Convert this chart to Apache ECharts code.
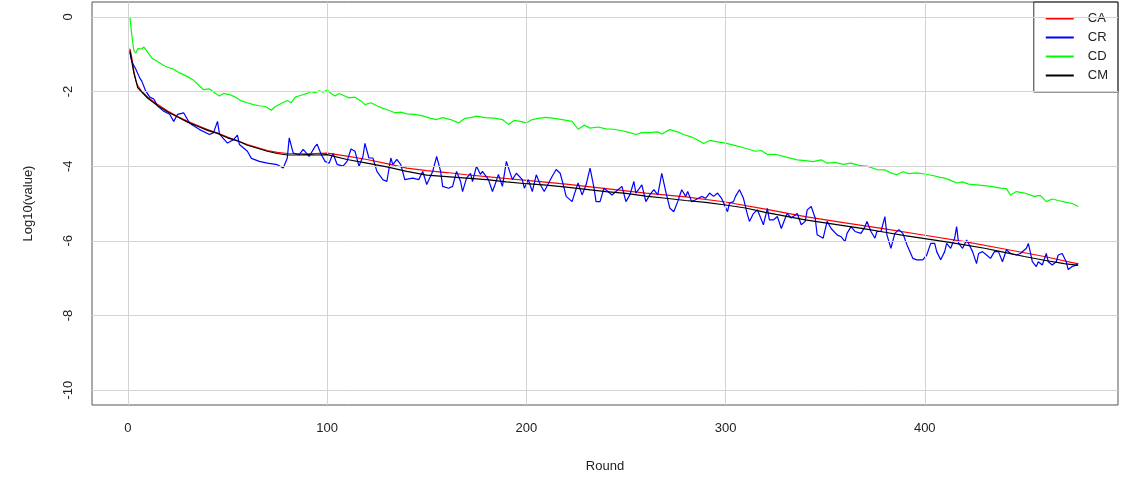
<!DOCTYPE html>
<html>
<head>
<meta charset="utf-8">
<script src="https://cdn.jsdelivr.net/npm/echarts@6/dist/echarts.min.js"></script>
<style>
html,body{margin:0;padding:0;background:#fff;}
#chart{width:1128px;height:482px;}
</style>
</head>
<body>
<div id="chart"></div>
<script>
// ---- data ----
const xTicks = [0, 100, 200, 300, 400];
const yTicks = [0, -2, -4, -6, -8, -10];
const seriesNames = ['CA', 'CR', 'CD', 'CM'];

const caRounds = [1,2,3,4,5,7,10,15,20,25,30,35,40,45,50,55,60,65,70,75,80,90,100,110,120,130,140,150,160,170,180,190,200,220,240,260,280,300,320,340,360,380,400,420,440,460,477];
const caValues = [-0.85,-1.1,-1.45,-1.7,-1.85,-2.0,-2.15,-2.35,-2.52,-2.67,-2.8,-2.91,-3.02,-3.11,-3.22,-3.32,-3.42,-3.5,-3.58,-3.63,-3.66,-3.67,-3.65,-3.73,-3.82,-3.93,-4.05,-4.12,-4.17,-4.23,-4.28,-4.33,-4.38,-4.48,-4.6,-4.72,-4.82,-4.96,-5.15,-5.35,-5.52,-5.68,-5.85,-6.02,-6.22,-6.42,-6.62];

const cmRounds = [1,3,5,10,15,20,25,30,35,40,45,50,55,60,65,70,75,80,85,90,95,100,110,120,130,140,150,160,170,180,190,200,210,220,230,240,250,260,270,280,290,300,310,320,330,340,350,360,370,380,390,400,410,420,430,440,450,460,470,477];
const cmValues = [-0.9,-1.5,-1.9,-2.18,-2.38,-2.55,-2.68,-2.82,-2.93,-3.04,-3.12,-3.24,-3.32,-3.44,-3.52,-3.6,-3.66,-3.7,-3.7,-3.69,-3.7,-3.69,-3.82,-3.92,-4.02,-4.14,-4.24,-4.28,-4.32,-4.36,-4.42,-4.47,-4.51,-4.56,-4.62,-4.68,-4.73,-4.8,-4.86,-4.92,-4.97,-5.04,-5.12,-5.24,-5.34,-5.44,-5.52,-5.6,-5.68,-5.77,-5.86,-5.94,-6.02,-6.11,-6.2,-6.31,-6.42,-6.52,-6.61,-6.66];

const cdRounds = [1,2,3,4,5,6,7,8,9,10,12,15,18,20,23,26,30,33,36,38,41,44,46,48,51,54,57,60,63,66,69,72,74,77,80,82,84,87,90,92,94,96,98,100,102,104,106,108,111,114,117,119,122,125,128,131,134,137,140,144,148,152,155,158,162,166,169,172,175,179,184,188,191,194,197,200,203,206,210,214,218,223,226,229,232,236,240,244,248,252,255,258,262,266,268,272,276,279,283,286,289,292,296,300,305,310,315,318,321,325,330,336,340,344,348,351,355,359,363,367,371,376,380,383,386,389,392,396,400,404,408,410,413,416,419,422,426,430,434,438,441,443,446,450,455,458,461,464,467,471,474,477];
const cdValues = [0.0,-0.5,-0.9,-0.97,-0.85,-0.8,-0.86,-0.8,-0.85,-0.95,-1.1,-1.2,-1.3,-1.35,-1.4,-1.5,-1.6,-1.7,-1.85,-1.95,-1.93,-2.05,-2.12,-2.05,-2.08,-2.15,-2.25,-2.3,-2.35,-2.38,-2.4,-2.5,-2.4,-2.32,-2.24,-2.3,-2.15,-2.1,-2.05,-2.0,-2.03,-1.98,-2.02,-1.96,-2.05,-2.12,-2.05,-2.1,-2.17,-2.15,-2.25,-2.35,-2.3,-2.38,-2.45,-2.5,-2.57,-2.55,-2.6,-2.61,-2.65,-2.72,-2.75,-2.7,-2.75,-2.84,-2.72,-2.7,-2.66,-2.7,-2.71,-2.75,-2.88,-2.77,-2.8,-2.84,-2.75,-2.72,-2.69,-2.72,-2.75,-2.8,-3.01,-2.9,-2.98,-2.95,-3.0,-3.01,-3.05,-3.1,-3.15,-3.1,-3.1,-3.08,-3.14,-3.02,-3.08,-3.15,-3.22,-3.3,-3.39,-3.31,-3.35,-3.38,-3.45,-3.52,-3.6,-3.58,-3.69,-3.68,-3.75,-3.83,-3.85,-3.88,-3.83,-3.92,-3.9,-3.95,-3.92,-3.98,-4.0,-4.09,-4.1,-4.18,-4.23,-4.15,-4.2,-4.18,-4.21,-4.25,-4.3,-4.32,-4.38,-4.45,-4.42,-4.48,-4.5,-4.52,-4.55,-4.59,-4.6,-4.77,-4.68,-4.72,-4.81,-4.78,-4.95,-4.88,-4.92,-4.97,-5.0,-5.08];

const crRounds = [1,2,3,4,6,7,9,11,13,15,18,21,23,25,28,31,36,41,43,45,46,50,53,55,56,60,62,66,70,75,78,80,81,83,86,88,91,94,95,97,99,101,103,105,108,110,112,114,116,118,119,121,123,125,128,130,132,133,135,137,139,143,146,148,150,153,155,157,158,161,163,165,167,168,170,172,173,175,177,178,181,183,184,186,188,190,192,193,195,198,199,201,203,205,207,209,210,213,215,217,219,220,223,224,226,228,230,232,234,235,237,239,240,243,245,248,250,252,254,255,258,260,262,264,266,268,270,272,274,276,278,280,281,283,285,288,290,292,294,296,298,301,302,304,305,307,309,311,312,314,316,317,319,321,322,324,326,328,330,331,333,336,338,340,341,343,345,346,349,351,353,356,358,360,361,363,365,366,368,370,371,373,375,376,378,380,381,383,385,387,389,391,394,396,399,401,403,405,406,408,410,411,413,415,416,417,419,421,422,424,426,427,429,431,433,435,437,439,441,443,446,448,451,452,454,456,457,459,461,462,464,466,467,469,471,472,474,476,477];
const crValues = [-0.95,-1.2,-1.25,-1.4,-1.64,-1.72,-1.99,-2.15,-2.2,-2.39,-2.53,-2.61,-2.8,-2.61,-2.57,-2.85,-3.02,-3.15,-3.1,-2.8,-3.14,-3.38,-3.29,-3.17,-3.42,-3.6,-3.79,-3.87,-3.92,-3.96,-4.05,-3.79,-3.24,-3.65,-3.69,-3.55,-3.74,-3.47,-3.41,-3.68,-3.87,-3.92,-3.66,-3.95,-4.0,-3.87,-3.54,-3.6,-4.0,-3.74,-3.39,-3.78,-3.78,-4.14,-4.36,-4.41,-3.78,-3.96,-3.82,-3.96,-4.36,-4.32,-4.36,-4.14,-4.49,-4.14,-3.74,-4.14,-4.54,-4.59,-4.54,-4.14,-4.41,-4.68,-4.32,-4.19,-4.41,-4.0,-4.22,-4.14,-4.36,-4.68,-4.54,-4.22,-4.54,-3.87,-4.2,-4.36,-4.19,-4.36,-4.59,-4.36,-4.68,-4.23,-4.49,-4.68,-4.63,-4.27,-4.09,-4.19,-4.59,-4.81,-4.95,-4.77,-4.45,-4.77,-4.5,-4.05,-4.59,-4.95,-4.95,-4.59,-4.63,-4.77,-4.68,-4.54,-4.95,-4.77,-4.41,-4.72,-4.5,-4.95,-4.77,-4.63,-4.77,-4.19,-4.68,-5.12,-5.22,-4.95,-4.63,-4.81,-4.68,-4.95,-4.9,-4.81,-4.86,-4.72,-4.81,-4.72,-4.86,-5.22,-4.99,-4.95,-4.81,-4.63,-4.86,-5.3,-5.48,-5.27,-5.17,-5.3,-5.57,-5.13,-5.44,-5.44,-5.35,-5.67,-5.39,-5.27,-5.39,-5.27,-5.57,-5.48,-5.17,-5.08,-5.39,-5.84,-5.93,-5.48,-5.67,-5.84,-5.89,-6.02,-5.8,-5.62,-5.75,-5.71,-5.8,-5.62,-5.48,-5.75,-5.93,-5.75,-5.75,-5.35,-5.84,-6.2,-5.8,-5.7,-5.8,-6.1,-6.47,-6.51,-6.51,-6.38,-6.07,-6.07,-6.29,-6.51,-6.29,-6.07,-6.2,-5.93,-5.62,-6.07,-6.2,-5.98,-6.07,-6.29,-6.61,-6.34,-6.29,-6.38,-6.47,-6.29,-6.29,-6.56,-6.24,-6.34,-6.38,-6.34,-6.2,-6.07,-6.56,-6.69,-6.56,-6.65,-6.34,-6.56,-6.65,-6.56,-6.38,-6.34,-6.56,-6.77,-6.69,-6.65,-6.61];

// ---- build chart ----
function pairs(xs, ys) { return xs.map((x, i) => [x, ys[i]]); }
const FONT = 'Liberation Sans, Arial, sans-serif';
const TXT = '#222';

const chart = echarts.init(document.getElementById('chart'), null, { renderer: 'canvas' });

const gridSeries = {
  name: 'grid', type: 'line', data: [], silent: true, z: 1,
  markLine: {
    silent: true, symbol: ['none', 'none'], animation: false,
    label: { show: false },
    lineStyle: { color: '#d3d3d3', width: 1, type: 'solid' },
    emphasis: { disabled: true },
    data: xTicks.map(v => ({ xAxis: v })).concat(yTicks.map(v => ({ yAxis: v })))
  }
};

function lineSeries(name, color, data, z) {
  return {
    name, type: 'line', data, showSymbol: false, symbol: 'none', smooth: false,
    z, animation: false,
    lineStyle: { color, width: 1.2 }, itemStyle: { color },
    emphasis: { disabled: true }
  };
}

chart.setOption({
  animation: false,
  backgroundColor: '#fff',
  textStyle: { fontFamily: FONT },
  grid: { left: 92, right: 10, top: 2, bottom: 77, show: true, borderColor: '#555', borderWidth: 1, backgroundColor: 'transparent' },
  legend: {
    data: seriesNames, orient: 'vertical', right: 10, top: 2,
    icon: 'rect', itemWidth: 28, itemHeight: 2, itemGap: 6,
    padding: [10, 10, 10, 12],
    borderColor: '#333', borderWidth: 1, backgroundColor: 'transparent',
    textStyle: { fontFamily: FONT, fontSize: 13, color: TXT, lineHeight: 13, padding: [0, 0, 0, 9] },
    selectedMode: false
  },
  xAxis: {
    type: 'value', min: -18, max: 497,
    name: 'Round', nameLocation: 'middle', nameGap: 55,
    nameTextStyle: { fontFamily: FONT, fontSize: 13, color: TXT },
    axisLine: { show: false },
    axisTick: { show: true, length: 8, customValues: xTicks, lineStyle: { color: '#555' } },
    axisLabel: { customValues: xTicks, margin: 17, fontFamily: FONT, fontSize: 13, color: TXT },
    splitLine: { show: false }
  },
  yAxis: {
    type: 'value', min: -10.4, max: 0.4,
    name: 'Log10(value)', nameLocation: 'middle', nameGap: 57, nameRotate: 90,
    nameTextStyle: { fontFamily: FONT, fontSize: 13, color: TXT },
    axisLine: { show: false },
    axisTick: { show: true, length: 8, customValues: yTicks, lineStyle: { color: '#555' } },
    axisLabel: { customValues: yTicks, rotate: 90, margin: 17, fontFamily: FONT, fontSize: 13, color: TXT },
    splitLine: { show: false }
  },
  series: [
    gridSeries,
    lineSeries('CA', '#ff0000', pairs(caRounds, caValues), 2),
    lineSeries('CR', '#0000ff', pairs(crRounds, crValues), 3),
    lineSeries('CD', '#00ff00', pairs(cdRounds, cdValues), 4),
    lineSeries('CM', '#000000', pairs(cmRounds, cmValues), 5)
  ]
});
</script>
</body>
</html>
